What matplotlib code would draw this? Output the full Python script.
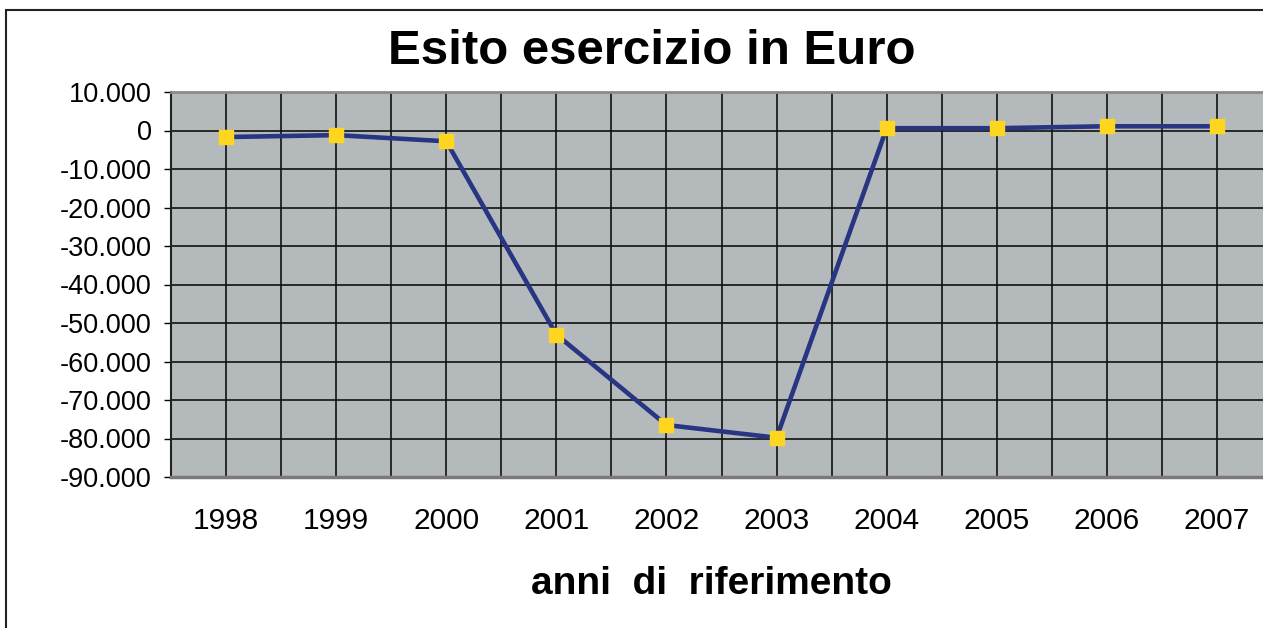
import matplotlib.pyplot as plt
from matplotlib.patches import Rectangle
from matplotlib.ticker import FuncFormatter, MultipleLocator

anni = ['1998', '1999', '2000', '2001', '2002', '2003', '2004', '2005', '2006', '2007']
esito = [-1700, -1200, -2800, -53000, -76500, -79800, 600, 600, 1100, 1100]

plt.rcParams['font.family'] = ['Liberation Sans', 'DejaVu Sans']

fig = plt.figure(figsize=(12.63, 6.28), dpi=100)
ax = fig.add_axes([171 / 1263, 151 / 628, 1101 / 1263, 385 / 628])
ax.set_facecolor('#b4babc')

x = range(len(anni))
ax.plot(x, esito, color='#283583', linewidth=3.3, marker='s', markersize=10.5,
        markerfacecolor='#ffd61f', markeredgecolor='#ffd61f', zorder=3)

ax.set_xlim(-0.5, len(anni) - 0.5)
ax.set_ylim(-90000, 10000)
ax.yaxis.set_major_locator(MultipleLocator(10000))
ax.yaxis.set_major_formatter(FuncFormatter(lambda v, p: f'{int(v):,}'.replace(',', '.')))

ax.set_xticks(list(x))
ax.set_xticklabels(anni)
ax.set_xticks([i - 0.5 for i in x], minor=True)
ax.grid(True, which='both', color='#111111', linewidth=1.2)
ax.set_axisbelow(True)

ax.tick_params(axis='x', which='both', length=0, pad=21.5, labelsize=21.5)
ax.tick_params(axis='y', direction='out', length=5, width=1, pad=9, labelsize=19.5)

ax.spines['right'].set_visible(False)
ax.spines['top'].set_color('#8a8a8a')
ax.spines['top'].set_linewidth(2)
ax.spines['bottom'].set_color('#7a7a7a')
ax.spines['bottom'].set_linewidth(2.5)
ax.spines['left'].set_color('#222222')
ax.spines['left'].set_linewidth(1.5)

fig.text(652 / 1263, 1 - 52 / 628, 'Esito esercizio in Euro', ha='center', va='center',
         fontsize=35.5, fontweight='bold')
fig.text(711 / 1263, 1 - 584 / 628, 'anni  di  riferimento', ha='center', va='center',
         fontsize=28, fontweight='bold')

# outer chart frame
fig.add_artist(Rectangle((6 / 1263, -0.2), 1.2, 1.2 - 10 / 628, transform=fig.transFigure,
                         fill=False, edgecolor='#222222', linewidth=1.5, clip_on=False))

fig.savefig('out.png', dpi=100)
